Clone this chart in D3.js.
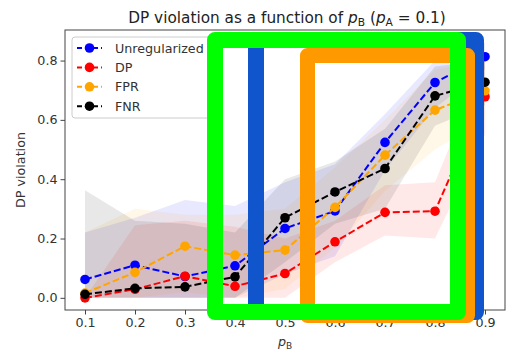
<!DOCTYPE html>
<html><head><meta charset="utf-8">
<script src="https://cdn.jsdelivr.net/npm/d3@7"></script>
<style>body{margin:0;background:#fff}svg{display:block}text{font-family:"DejaVu Sans",sans-serif}</style>
</head><body><svg id="c" width="508" height="351"></svg>
<script>
const pB = [0.1,0.2,0.3,0.4,0.5,0.6,0.7,0.8,0.9];
const xTicks = [0.1,0.2,0.3,0.4,0.5,0.6,0.7,0.8,0.9];
const yTicks = [0.0,0.2,0.4,0.6,0.8];
const seriesNames = ["Unregularized","DP","FPR","FNR"];
const seriesColors = ["#0000ff","#ff0000","#ffa500","#000000"];
const unregMean = [0.062,0.110,0.072,0.108,0.234,0.293,0.524,0.726,0.813];
const dpMean    = [0.000,0.029,0.073,0.039,0.082,0.189,0.288,0.292,0.678];
const fprMean   = [0.016,0.086,0.174,0.144,0.161,0.305,0.481,0.633,0.698];
const fnrMean   = [0.012,0.032,0.037,0.071,0.270,0.357,0.436,0.681,0.727];
const unregLo = [0,0,0,0,0.08,0.14,0.43,0.64,0.77];
const unregHi = [0.22,0.27,0.33,0.31,0.39,0.45,0.62,0.80,0.86];
const dpLo = [0,0,0,0,0,0.12,0.21,0.20,0.55];
const dpHi = [0,0.245,0.26,0.24,0.20,0.26,0.38,0.39,0.80];
const fprLo = [0,0,0.02,0,0.03,0.17,0.36,0.50,0.60];
const fprHi = [0.22,0.30,0.28,0.28,0.30,0.44,0.60,0.77,0.80];
const fnrLo = [0,0,0,0,0.12,0.25,0.30,0.58,0.65];
const fnrHi = [0.363,0.26,0.25,0.22,0.40,0.46,0.57,0.78,0.80];

const means=[unregMean,dpMean,fprMean,fnrMean];
const los=[unregLo,dpLo,fprLo,fnrLo];
const his=[unregHi,dpHi,fprHi,fnrHi];

const svg=d3.select("#c");
const L=65,R=505,T=30,B=310;
const x=d3.scaleLinear().domain([0.06,0.94]).range([L,R]);
const y=d3.scaleLinear().domain([-0.041,0.903]).range([B,T]);

const plot=svg.append("g");
seriesNames.forEach((n,i)=>{
  const area=d3.area().x((d,j)=>x(pB[j])).y0((d,j)=>y(los[i][j])).y1((d,j)=>y(his[i][j]));
  plot.append("path").attr("d",area(pB)).attr("fill",seriesColors[i]).attr("fill-opacity",0.09).attr("stroke","none");
});
seriesNames.forEach((n,i)=>{
  const line=d3.line().x((d,j)=>x(pB[j])).y(d=>y(d));
  plot.append("path").attr("d",line(means[i])).attr("fill","none").attr("stroke",seriesColors[i])
    .attr("stroke-width",2).attr("stroke-dasharray","7,3");
  plot.selectAll(null).data(means[i]).enter().append("circle")
    .attr("cx",(d,j)=>x(pB[j])).attr("cy",d=>y(d)).attr("r",4.8).attr("fill",seriesColors[i]);
});

const xa=svg.append("g").attr("transform",`translate(0,${B})`)
  .call(d3.axisBottom(x).tickValues(xTicks).tickFormat(d3.format(".1f")).tickSize(4.5).tickPadding(3));
const ya=svg.append("g").attr("transform",`translate(${L},0)`)
  .call(d3.axisLeft(y).tickValues(yTicks).tickFormat(d3.format(".1f")).tickSize(4.5).tickPadding(3));
[xa,ya].forEach(a=>{a.select(".domain").remove();a.selectAll("text").attr("font-size",12.7).attr("fill","#333").attr("font-family","DejaVu Sans");a.selectAll("line").attr("stroke","#444");});
svg.append("rect").attr("x",L).attr("y",T).attr("width",R-L).attr("height",B-T).attr("fill","none").attr("stroke","#444").attr("stroke-width",1);

const title=svg.append("text").attr("x",(L+R)/2+2).attr("y",23).attr("text-anchor","middle").attr("font-size",15.3).attr("fill","#222");
title.append("tspan").text("DP violation as a function of ");
title.append("tspan").attr("font-style","italic").text("p");
title.append("tspan").attr("font-size",10.7).attr("dy",3).text("B");
title.append("tspan").attr("dy",-3).text(" (");
title.append("tspan").attr("font-style","italic").text("p");
title.append("tspan").attr("font-size",10.7).attr("dy",3).text("A");
title.append("tspan").attr("dy",-3).text(" = 0.1)");

const xl=svg.append("text").attr("x",(L+R)/2).attr("y",346).attr("text-anchor","middle").attr("font-size",12.7).attr("fill","#333");
xl.append("tspan").attr("font-style","italic").text("p");
xl.append("tspan").attr("font-size",9).attr("dy",2.5).text("B");
svg.append("text").attr("transform",`translate(25,${(T+B)/2}) rotate(-90)`).attr("text-anchor","middle").attr("font-size",12.7).attr("fill","#333").text("DP violation");

const lg=svg.append("g");
lg.append("rect").attr("x",72).attr("y",37).attr("width",140).attr("height",81).attr("rx",3)
  .attr("fill","#fff").attr("fill-opacity",0.8).attr("stroke","#ccc");
seriesNames.forEach((n,i)=>{
  const yy=48+i*19.4;
  lg.append("line").attr("x1",77).attr("x2",102).attr("y1",yy).attr("y2",yy).attr("stroke",seriesColors[i]).attr("stroke-width",2).attr("stroke-dasharray","5,3");
  lg.append("circle").attr("cx",89.5).attr("cy",yy).attr("r",4.8).attr("fill",seriesColors[i]);
  lg.append("text").attr("x",115).attr("y",yy+4.5).attr("font-size",12.7).attr("fill","#333").text(n);
});

const ov=svg.append("g").attr("fill","none").attr("stroke-linejoin","round");
ov.append("rect").attr("x",256).attr("y",40).attr("width",220).attr("height",272).attr("stroke","#1155cc").attr("stroke-width",16);
ov.append("rect").attr("x",307.5).attr("y",55.5).attr("width",160).attr("height",260).attr("stroke","#ff9900").attr("stroke-width",15);
ov.append("rect").attr("x",215).attr("y",40).attr("width",243).attr("height",272).attr("stroke","#00ff00").attr("stroke-width",16);
</script></body></html>
